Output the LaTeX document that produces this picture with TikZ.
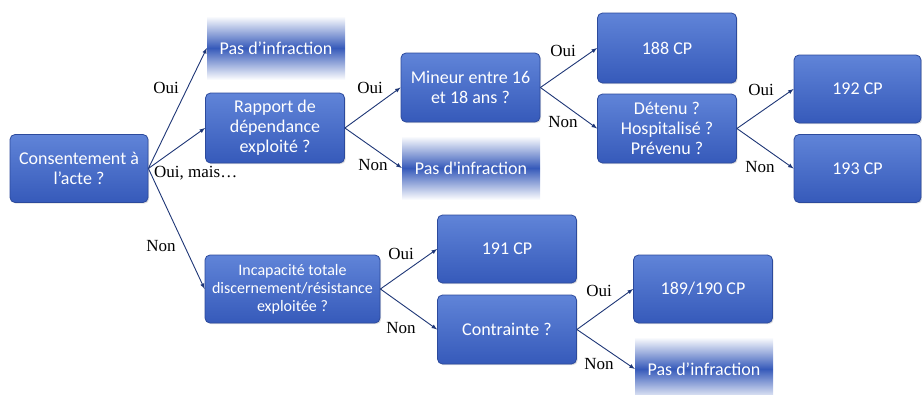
\documentclass[tikz,border=0pt]{standalone}
\usepackage{fontspec}
\setmainfont{Liberation Serif}
\newfontfamily\caixa{Carlito}
\usetikzlibrary{shadows}
\definecolor{azulclaro}{RGB}{96,132,216}
\definecolor{azulescuro}{RGB}{54,90,186}
\definecolor{azulborda}{RGB}{44,74,156}
\definecolor{azulseta}{RGB}{30,54,118}
\begin{document}
\begin{tikzpicture}[>=latex, x=1pt, y=-1pt,
    bloco/.style={draw=azulborda, line width=0.8pt, rounded corners=5pt, top color=azulclaro, bottom color=azulescuro,
      text=white, align=center, font=\caixa\fontsize{18}{20}\selectfont, minimum width=139pt, minimum height=69pt,
      inner sep=2pt, drop shadow={opacity=0.25, shadow xshift=1.2pt, shadow yshift=-1.2pt}},
    faixa/.style={top color=white, bottom color=white, middle color=azulescuro, text=white,
      font=\caixa\fontsize{18}{20}\selectfont, minimum width=138pt, minimum height=64pt, inner sep=0pt},
    rotulo/.style={font=\fontsize{17}{17}\selectfont, inner sep=0pt},
    seta/.style={->, draw=azulseta, line width=0.9pt}]
\useasboundingbox (0,0) rectangle (922,394);
% Question de depart
\node[bloco, minimum width=138pt, minimum height=68pt] (consent) at (79,168.5) {Consentement à\\l’acte ?};
% Branche Oui / Oui, mais...
\node[faixa] (pasA) at (276,48) {Pas d’infraction};
\node[bloco, minimum height=70pt] (rapport) at (275,128) {Rapport de\\dépendance\\exploité ?};
\node[bloco] (mineur) at (470.5,87.5) {Mineur entre 16\\et 18 ans ?};
\node[faixa] (pasB) at (471,168) {Pas d'infraction};
\node[bloco, minimum height=70pt] (cp188) at (667,48) {188 CP};
\node[bloco] (detenu) at (667,128.5) {Détenu ?\\Hospitalisé ?\\Prévenu ?};
\node[bloco, minimum width=127pt, minimum height=68pt] (cp192) at (857.5,89) {192 CP};
\node[bloco, minimum width=127pt, minimum height=68pt] (cp193) at (857.5,168.5) {193 CP};
% Branche Non
\node[bloco, minimum width=175pt, minimum height=68pt, font=\caixa\fontsize{16}{18}\selectfont] (incap) at (292.5,289) {Incapacité totale\\discernement/résistance\\exploitée ?};
\node[bloco, minimum height=68pt] (cp191) at (507,249) {191 CP};
\node[bloco] (contrainte) at (507,329.5) {Contrainte ?};
\node[bloco, minimum height=68pt] (cp189) at (703,289) {189/190 CP};
\node[faixa] (pasC) at (704,369) {Pas d’infraction};
% Fleches
\draw[seta] (consent.east) -- (pasA.west);
\draw[seta] (consent.east) -- (rapport.west);
\draw[seta] (consent.east) -- (incap.west);
\draw[seta] (rapport.east) -- (mineur.west);
\draw[seta] (rapport.east) -- (pasB.west);
\draw[seta] (mineur.east) -- (cp188.west);
\draw[seta] (mineur.east) -- (detenu.west);
\draw[seta] (detenu.east) -- (cp192.west);
\draw[seta] (detenu.east) -- (cp193.west);
\draw[seta] (incap.east) -- (cp191.west);
\draw[seta] (incap.east) -- (contrainte.west);
\draw[seta] (contrainte.east) -- (cp189.west);
\draw[seta] (contrainte.east) -- (pasC.west);
% Etiquettes
\node[rotulo] (oui1) at (166,88) {Oui};
\node[rotulo, anchor=west] (ouimais) at (154,173) {Oui, mais…};
\node[rotulo] (non1) at (161,246) {Non};
\node[rotulo] (oui2) at (370,88) {Oui};
\node[rotulo] (non2) at (373,165) {Non};
\node[rotulo] (oui3) at (563,51) {Oui};
\node[rotulo] (non3) at (563,122) {Non};
\node[rotulo] (oui4) at (761,90) {Oui};
\node[rotulo] (non4) at (760,167) {Non};
\node[rotulo] (oui5) at (401,254) {Oui};
\node[rotulo] (non5) at (401,328) {Non};
\node[rotulo] (oui6) at (599,291) {Oui};
\node[rotulo] (non6) at (599,364) {Non};
\end{tikzpicture}
\end{document}
